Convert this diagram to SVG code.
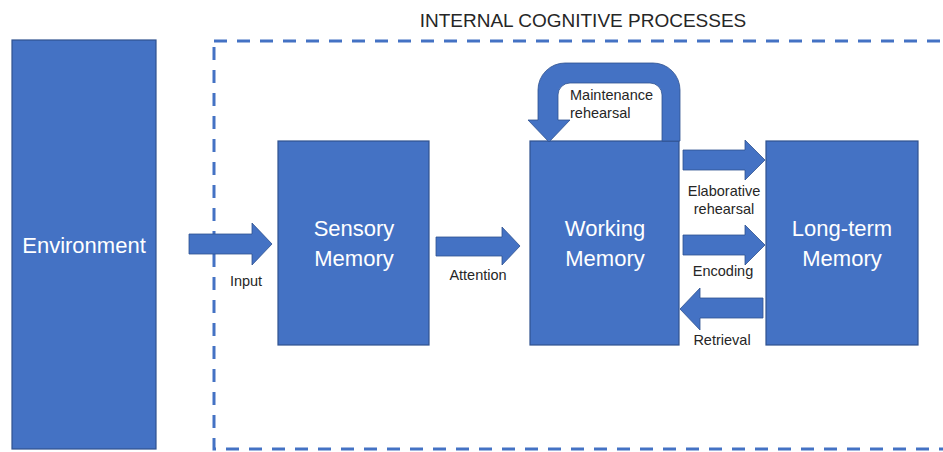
<svg xmlns="http://www.w3.org/2000/svg" width="943" height="452" viewBox="0 0 943 452">
<style>
.box{fill:#4472C4;stroke:#2F528F;stroke-width:1.2}
.arr{fill:#4472C4;stroke:#2F528F;stroke-width:0.8}
.nl{font-family:"Liberation Sans",Arial,sans-serif;font-size:22px;fill:#fff;text-anchor:middle}
.al{font-family:"Liberation Sans",Arial,sans-serif;font-size:14.5px;fill:#262626;text-anchor:middle}
.title{font-family:"Liberation Sans",Arial,sans-serif;font-size:19px;fill:#262626;text-anchor:middle}
</style>
<rect width="943" height="452" fill="#fff"/>
<g id="boundary">
<rect x="214" y="41" width="740" height="408" fill="none" stroke="#4472C4" stroke-width="3" stroke-dasharray="13 10"/>
<text class="title" x="583" y="27">INTERNAL COGNITIVE PROCESSES</text>
</g>
<g id="environment">
<rect class="box" x="12" y="40" width="144" height="409"/>
<text class="nl" x="84" y="253">Environment</text>
</g>
<g id="sensory">
<rect class="box" x="278" y="141" width="151" height="204"/>
<text class="nl" x="354" y="236">Sensory</text>
<text class="nl" x="354" y="266">Memory</text>
</g>
<g id="working">
<rect class="box" x="530" y="141" width="149" height="204"/>
<text class="nl" x="605" y="236">Working</text>
<text class="nl" x="605" y="266">Memory</text>
</g>
<g id="longterm">
<rect class="box" x="766" y="141" width="152" height="204"/>
<text class="nl" x="842" y="236">Long-term</text>
<text class="nl" x="842" y="266">Memory</text>
</g>
<g id="connectors">
<path class="arr" d="M189 234H252V223L272 244L252 265V254H189Z"/>
<text class="al" x="246" y="286">Input</text>
<path class="arr" d="M436 237H502V227L520 246L502 265V256H436Z"/>
<text class="al" x="478" y="280">Attention</text>
<path class="arr" d="M683 150H745V140L765 160L745 180V170H683Z"/>
<text class="al" x="724" y="196">Elaborative</text>
<text class="al" x="724" y="214">rehearsal</text>
<path class="arr" d="M683 235H745V225L765 245L745 265V255H683Z"/>
<text class="al" x="723" y="276">Encoding</text>
<path class="arr" d="M763 298H700V288L680 309L700 330V318H763Z"/>
<text class="al" x="722" y="345">Retrieval</text>
<path class="arr" d="M680 141V90A27 27 0 0 0 653 63H565A27 27 0 0 0 538 90V120H528L549 142L570 120H558V95A12 12 0 0 1 570 83H650A12 12 0 0 1 662 95V141Z"/>
<text class="al" x="570" y="100" style="text-anchor:start">Maintenance</text>
<text class="al" x="570" y="118" style="text-anchor:start">rehearsal</text>
</g>
</svg>
